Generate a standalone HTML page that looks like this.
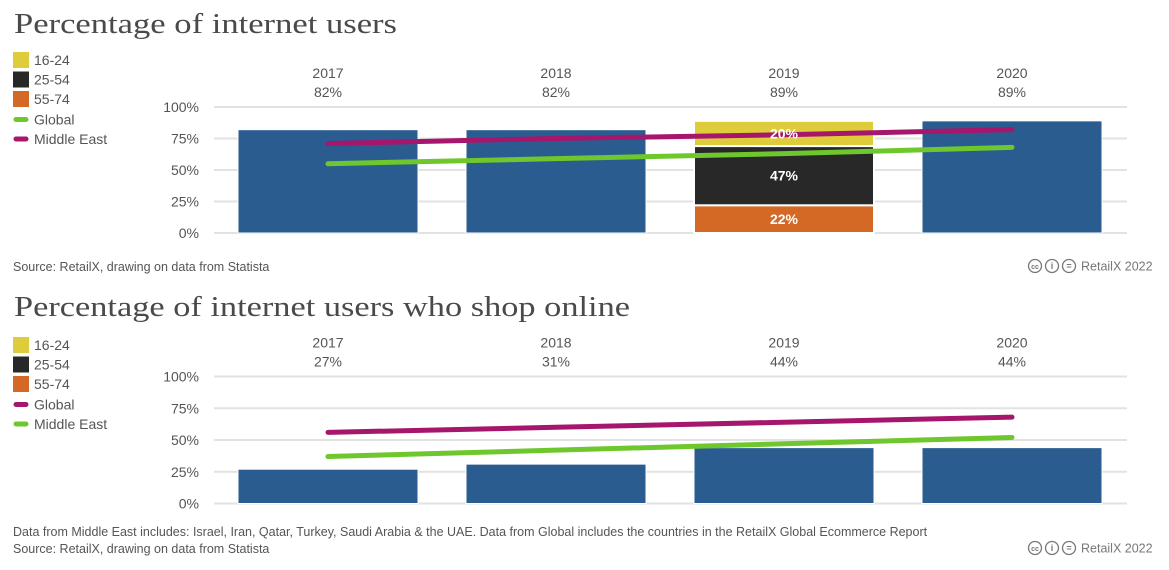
<!DOCTYPE html>
<html><head><meta charset="utf-8"><style>
body{margin:0;background:#fff;width:1169px;height:565px;overflow:hidden}
svg text{font-family:"Liberation Sans",sans-serif}
</style></head><body>
<svg id="c" width="1169" height="565" xmlns="http://www.w3.org/2000/svg"></svg>
<script>
const categories=["2017","2018","2019","2020"];
const users=[82,82,89,89];
const usersStack2019=[22,47,20];
const usersME=[71,75,78,82];
const usersGlobal=[55,59,63,68];
const shop=[27,31,44,44];
const shopGlobal=[56,60,64,68];
const shopME=[37,42,47,52];
const ticks=["0%","25%","50%","75%","100%"];
const NS="http://www.w3.org/2000/svg";
const svg=document.getElementById('c');
function el(t,a,p){const e=document.createElementNS(NS,t);for(const k in a)e.setAttribute(k,a[k]);(p||svg).appendChild(e);return e;}
function txt(s,a,p){const e=el('text',a,p);e.textContent=s;return e;}
const X=i=>328+i*228;
const BW=180;
function chart(o){
  const g=el('g',{});
  
  
  const Y=v=>o.y0-(o.y0-o.y100)*v/100;
  const t=txt(o.title,{x:14,y:o.ty,'font-size':29,fill:'#4a4a4a',style:'font-family:"Liberation Serif",serif',textLength:o.tl,lengthAdjust:'spacingAndGlyphs'},g);
  
  const leg=[["16-24","#dfcc3a",'sq'],["25-54","#282828",'sq'],["55-74","#d36924",'sq'],[o.l1,o.c1,'ln'],[o.l2,o.c2,'ln']];
  leg.forEach((l,i)=>{
    const ly=o.ly+i*19.5+(i>2?1:0);
    const lg=el('g',{},g);
    
    if(l[2]=='sq')el('rect',{x:13,y:ly-8,width:16,height:16,fill:l[1]},lg);
    else el('line',{x1:16,y1:ly,x2:26,y2:ly,stroke:l[1],'stroke-width':5,'stroke-linecap':'round'},lg);
    txt(l[0],{x:34,y:ly+5,'font-size':14,fill:'#555'},lg);
  });
  ticks.forEach((tk,i)=>{
    const y=Y(i*25);
    const gl=el('line',{x1:214,x2:1127,y1:y,y2:y,stroke:'#e2e2e2','stroke-width':2},g);
    
    const tl=txt(tk,{x:199,y:y+5,'font-size':14,fill:'#555','text-anchor':'end'},g);
    
  });
  const segLabels=[];
  o.vals.forEach((v,i)=>{
    const cx=X(i);
    const c=txt(categories[i],{x:cx,y:o.y100-29,'font-size':14,fill:'#555','text-anchor':'middle'},g);
    
    const vl=txt(v+'%',{x:cx,y:o.y100-10,'font-size':14,fill:'#555','text-anchor':'middle'},g);
    
    if(o.stack&&i==2){
      const cols=["#d36924","#282828","#dfcc3a"];let acc=0;
      o.stack.forEach((s,j)=>{
        const r=el('rect',{x:cx-BW/2,y:Y(acc+s),width:BW,height:Y(acc)-Y(acc+s),fill:cols[j],stroke:'#fff','stroke-width':2},g);
        
        
        segLabels.push([s,cx,(Y(acc)+Y(acc+s))/2+5]);
        acc+=s;
      });
    }else{
      const r=el('rect',{x:cx-BW/2,y:Y(v),width:BW,height:Y(0)-Y(v),fill:'#2a5c8f',stroke:'#fff','stroke-width':1},g);
      
      
    }
  });
  [[o.s1,o.c1,o.l1],[o.s2,o.c2,o.l2]].forEach(s=>{
    const p=el('polyline',{points:s[0].map((v,i)=>X(i)+','+Y(v)).join(' '),fill:'none',stroke:s[1],'stroke-width':5,'stroke-linecap':'round','stroke-linejoin':'round'},g);
    
    
  });
  segLabels.forEach(sl=>{
    const st=txt(sl[0]+'%',{x:sl[1],y:sl[2],'font-size':14,'font-weight':'bold',fill:'#fff','text-anchor':'middle'},g);
    
  });
  o.notes.forEach((n,i)=>{
    const f=txt(n,{x:13,y:o.fy+i*17,'font-size':12.5,fill:'#555'},g);
    
  });
  const cr=el('g',{},g);
  
  [1035,1052,1069].forEach((cx,k)=>{
    el('circle',{cx:cx,cy:o.cy,r:6.5,fill:'none',stroke:'#777','stroke-width':1.3},cr);
    txt(['cc','i','='][k],{x:cx,y:o.cy+3,'font-size':k==0?7:9,fill:'#777','text-anchor':'middle','font-weight':'bold'},cr);
  });
  txt('RetailX 2022',{x:1081,y:o.cy+4.5,'font-size':12.5,fill:'#777'},cr);
}
chart({name:'internet-users-chart',title:'Percentage of internet users',ty:33,tl:383,ly:60,l1:'Global',c1:'#6ec72d',l2:'Middle East',c2:'#a5166c',
  y0:233,y100:107,vals:users,stack:usersStack2019,s1:usersGlobal,s2:usersME,
  notes:['Source: RetailX, drawing on data from Statista'],fy:271,cy:266});
chart({name:'online-shoppers-chart',title:'Percentage of internet users who shop online',ty:316,tl:616,ly:345,l1:'Global',c1:'#a5166c',l2:'Middle East',c2:'#6ec72d',
  y0:503.5,y100:376.5,vals:shop,stack:null,s1:shopGlobal,s2:shopME,
  notes:['Data from Middle East includes: Israel, Iran, Qatar, Turkey, Saudi Arabia & the UAE. Data from Global includes the countries in the RetailX Global Ecommerce Report','Source: RetailX, drawing on data from Statista'],fy:536,cy:548});
</script>
</body></html>
